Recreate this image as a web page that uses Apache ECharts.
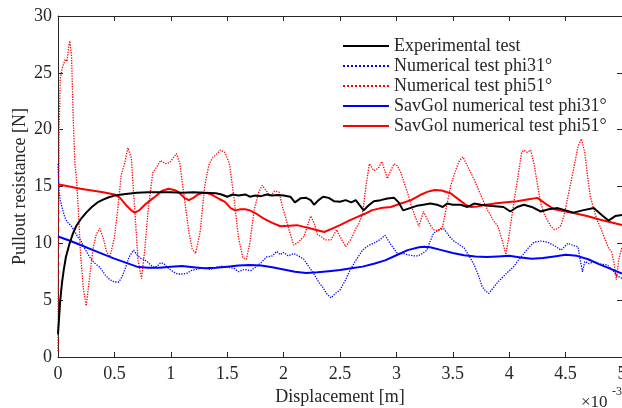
<!DOCTYPE html>
<html>
<head>
<meta charset="utf-8">
<script src="https://cdn.jsdelivr.net/npm/echarts@6/dist/echarts.min.js"></script>
<style>html,body{margin:0;padding:0;background:#fff}#c{width:622px;height:408px}</style>
</head>
<body>
<div id="c"></div>
<script>
// x values in units of 10^-3 m, y in N
const seriesNames = ['Experimental test','Numerical test phi31°','Numerical test phi51°','SavGol numerical test phi31°','SavGol numerical test phi51°'];
const xTicks = [0,0.5,1,1.5,2,2.5,3,3.5,4,4.5,5];
const yTicks = [0,5,10,15,20,25,30];

const experimental = [[0,2],[0.01,3.5],[0.02,5],[0.035,6.5],[0.05,7.6],[0.07,8.8],[0.1,9.9],[0.13,10.8],[0.16,11.5],[0.2,12.1],[0.25,12.7],[0.3,13.2],[0.35,13.6],[0.4,13.85],[0.45,14.05],[0.5,14.2],[0.6,14.35],[0.7,14.45],[0.8,14.5],[0.9,14.5],[1.0,14.5],[1.1,14.45],[1.2,14.5],[1.3,14.45],[1.4,14.4],[1.45,14.3],[1.5,14.1],[1.55,14.3],[1.6,14.2],[1.66,14.3],[1.7,14.1],[1.75,14.2],[1.8,14.15],[1.85,14.3],[1.9,14.2],[1.95,14.25],[2.0,14.2],[2.06,14.1],[2.1,13.6],[2.15,13.96],[2.2,14.0],[2.24,13.8],[2.27,13.4],[2.31,13.8],[2.35,14.1],[2.4,14.0],[2.45,13.7],[2.5,13.66],[2.55,13.8],[2.6,13.6],[2.64,13.8],[2.67,13.4],[2.71,12.9],[2.75,13.3],[2.8,13.7],[2.86,13.8],[2.92,13.95],[2.98,14.0],[3.02,13.6],[3.06,12.9],[3.12,13.1],[3.18,13.3],[3.24,13.4],[3.3,13.5],[3.36,13.4],[3.41,13.2],[3.45,13.5],[3.5,13.4],[3.57,13.4],[3.63,13.2],[3.69,13.5],[3.75,13.4],[3.82,13.3],[3.9,13.25],[3.95,13.2],[4.01,12.8],[4.07,13.2],[4.13,13.4],[4.2,13.2],[4.28,12.8],[4.35,13.0],[4.43,13.1],[4.5,12.9],[4.57,12.7],[4.65,12.9],[4.75,13.1],[4.82,12.5],[4.88,12.0],[4.94,12.4],[5.0,12.5]];

const numPhi31 = [[0,17],[0.005,15.5],[0.01,14.5],[0.02,13.8],[0.04,13],[0.06,12.3],[0.08,11.9],[0.1,11.7],[0.12,11.5],[0.15,11],[0.18,10.5],[0.2,10.3],[0.24,9.5],[0.28,8.8],[0.32,8.3],[0.37,7.9],[0.42,7.2],[0.46,6.8],[0.5,6.6],[0.54,6.6],[0.57,7.1],[0.6,7.9],[0.63,8.8],[0.67,9.4],[0.7,9.0],[0.73,8.7],[0.76,8.6],[0.79,8.4],[0.82,8.1],[0.85,7.9],[0.88,8.0],[0.91,8.3],[0.94,8.2],[0.98,7.8],[1.02,7.5],[1.06,7.3],[1.1,7.3],[1.14,7.35],[1.18,7.6],[1.22,7.7],[1.26,7.8],[1.3,7.8],[1.35,7.7],[1.41,7.9],[1.46,8.0],[1.51,7.9],[1.56,7.8],[1.6,7.5],[1.65,7.7],[1.71,7.6],[1.75,7.9],[1.8,8.3],[1.85,8.8],[1.9,8.9],[1.94,9.3],[1.97,9.0],[2.0,9.2],[2.04,8.9],[2.09,9.1],[2.13,8.9],[2.18,8.6],[2.22,8.0],[2.27,7.3],[2.31,6.6],[2.35,6.1],[2.38,5.6],[2.42,5.2],[2.46,5.6],[2.5,5.9],[2.55,6.8],[2.59,7.65],[2.64,8.5],[2.7,9.4],[2.75,9.8],[2.8,10.0],[2.85,10.3],[2.9,10.7],[2.95,9.9],[3.01,9.1],[3.06,9.1],[3.1,9.0],[3.15,8.9],[3.19,8.9],[3.23,9.1],[3.27,9.4],[3.3,10.2],[3.33,10.9],[3.38,11.2],[3.42,11.3],[3.47,10.6],[3.51,10.2],[3.54,10.0],[3.6,9.6],[3.65,8.8],[3.69,8.1],[3.73,7.1],[3.76,6.2],[3.79,5.8],[3.82,5.6],[3.86,6.1],[3.9,6.6],[3.93,6.9],[3.98,7.4],[4.04,7.95],[4.08,8.5],[4.13,9.1],[4.17,9.6],[4.22,10.1],[4.28,10.2],[4.34,10.1],[4.4,9.8],[4.46,9.4],[4.52,10.0],[4.57,9.8],[4.61,9.7],[4.63,8.5],[4.65,7.5],[4.67,8.4],[4.71,8.2],[4.75,8.4],[4.8,8.2],[4.87,8.1],[4.92,7.6],[4.95,7.2],[5.0,6.9]];

const numPhi51 = [[0,0.5],[0.005,12],[0.01,20],[0.02,24.5],[0.035,25.3],[0.05,25.8],[0.065,26.2],[0.08,26],[0.095,27.3],[0.105,27.8],[0.12,26.5],[0.135,21],[0.15,17],[0.165,15.5],[0.18,13],[0.2,9],[0.225,6],[0.25,4.5],[0.28,7],[0.31,9.5],[0.34,10.8],[0.37,11.3],[0.4,10.5],[0.43,9.3],[0.46,8.8],[0.5,10.5],[0.53,13],[0.56,16],[0.59,17],[0.62,18.4],[0.65,17.5],[0.68,13],[0.71,8.5],[0.74,6.9],[0.77,9.5],[0.8,13],[0.84,16.2],[0.88,16.8],[0.91,17.3],[0.95,17],[0.99,17.1],[1.02,17.5],[1.05,17.9],[1.08,17],[1.12,14],[1.16,11],[1.19,9.5],[1.22,9.1],[1.26,11],[1.3,15],[1.34,17],[1.37,17.5],[1.4,17.8],[1.44,18.2],[1.48,18],[1.52,17],[1.56,14],[1.6,10.5],[1.64,8.7],[1.67,8.6],[1.7,10],[1.74,13],[1.78,14.5],[1.81,15.1],[1.85,14.6],[1.88,14.1],[1.92,14.6],[1.96,14.5],[1.99,13.2],[2.02,12.2],[2.06,10.8],[2.09,9.85],[2.13,10.1],[2.18,10.6],[2.21,11.5],[2.24,12.4],[2.27,11.8],[2.3,10.8],[2.33,10.6],[2.37,10.3],[2.42,10.3],[2.47,11.2],[2.5,10.6],[2.55,9.7],[2.6,10.4],[2.64,11.3],[2.67,11.8],[2.7,12.6],[2.73,15],[2.76,17],[2.8,16.4],[2.84,16.6],[2.87,17.2],[2.9,16.3],[2.92,15.7],[2.95,16.4],[2.98,17],[3.01,16.8],[3.04,16.2],[3.07,15.3],[3.1,14.4],[3.13,13.4],[3.16,12.5],[3.2,11.5],[3.24,12.8],[3.27,12.2],[3.3,11.6],[3.33,11.2],[3.37,11.1],[3.41,11.5],[3.44,13],[3.48,15],[3.52,16.3],[3.56,17.3],[3.59,17.6],[3.63,16.8],[3.69,15.6],[3.75,14.2],[3.81,12.9],[3.86,12],[3.9,11.5],[3.94,10.2],[3.97,9.0],[4.0,10.8],[4.04,13.5],[4.08,16],[4.11,18],[4.13,18.2],[4.16,18],[4.19,18.2],[4.22,17],[4.25,15.2],[4.28,13.5],[4.31,12.6],[4.34,12],[4.37,11.5],[4.4,11.2],[4.43,11.3],[4.46,11.6],[4.49,12.6],[4.52,14.1],[4.55,15.5],[4.58,17],[4.61,18.5],[4.64,19.2],[4.67,18],[4.7,15.5],[4.72,14.1],[4.75,13],[4.78,12.0],[4.81,11.4],[4.84,10.6],[4.88,9.6],[4.91,9.2],[4.93,8.2],[4.95,6.8],[4.97,8.5],[5.0,9.7]];

const savPhi31 = [[0,10.6],[0.1,10.25],[0.2,9.85],[0.3,9.45],[0.4,9.05],[0.5,8.65],[0.6,8.3],[0.7,7.95],[0.8,7.85],[0.9,7.85],[1.0,7.95],[1.1,8.0],[1.2,7.9],[1.3,7.8],[1.4,7.85],[1.5,7.95],[1.6,8.05],[1.7,8.1],[1.8,8.05],[1.9,7.9],[2.0,7.7],[2.1,7.5],[2.2,7.4],[2.3,7.45],[2.4,7.55],[2.5,7.65],[2.6,7.8],[2.7,7.95],[2.8,8.2],[2.9,8.5],[3.0,8.95],[3.1,9.4],[3.2,9.65],[3.25,9.7],[3.3,9.65],[3.4,9.4],[3.5,9.15],[3.6,8.95],[3.7,8.85],[3.8,8.8],[3.9,8.85],[4.0,8.9],[4.1,8.75],[4.2,8.65],[4.3,8.7],[4.4,8.85],[4.5,9.0],[4.6,8.9],[4.7,8.6],[4.8,8.15],[4.9,7.75],[5.0,7.35]];

const savPhi51 = [[0,15.2],[0.1,15.0],[0.2,14.8],[0.3,14.65],[0.4,14.5],[0.5,14.3],[0.55,14.0],[0.6,13.4],[0.65,12.9],[0.68,12.7],[0.72,12.9],[0.77,13.4],[0.82,13.8],[0.86,14.1],[0.92,14.6],[0.98,14.8],[1.03,14.7],[1.07,14.5],[1.12,14.0],[1.16,13.8],[1.2,14.0],[1.24,14.3],[1.28,14.45],[1.33,14.4],[1.37,14.25],[1.43,13.9],[1.48,13.65],[1.53,13.1],[1.57,12.9],[1.62,13.0],[1.66,13.0],[1.7,12.9],[1.76,12.6],[1.82,12.2],[1.9,11.8],[1.97,11.5],[2.05,11.55],[2.12,11.6],[2.18,11.45],[2.24,11.3],[2.3,11.15],[2.36,11.0],[2.43,11.3],[2.5,11.6],[2.58,12.0],[2.65,12.3],[2.72,12.6],[2.78,12.9],[2.86,13.1],[2.95,13.2],[3.04,13.5],[3.13,13.8],[3.21,14.25],[3.28,14.55],[3.34,14.7],[3.4,14.65],[3.48,14.4],[3.56,13.8],[3.62,13.35],[3.66,13.2],[3.72,13.25],[3.8,13.4],[3.87,13.5],[3.95,13.6],[4.07,13.7],[4.16,13.85],[4.25,14.0],[4.32,13.5],[4.4,13.0],[4.5,12.8],[4.6,12.6],[4.69,12.4],[4.8,12.1],[4.9,11.85],[5.0,11.6]];

const FONT = 'Liberation Serif';
const TXT = '#262626';
const FS = 18;
const chart = echarts.init(document.getElementById('c'), null, {renderer:'canvas'});

function mkX(pos, show) {
  return {
    type:'value', min:0, max:5, interval:0.5, position:pos,
    axisLine:{show:true, onZero:false, lineStyle:{color:TXT, width:1}},
    axisTick:{show:true, inside:true, length:5, lineStyle:{color:TXT}},
    axisLabel:{show:show, color:TXT, fontFamily:FONT, fontSize:FS, margin:8},
    splitLine:{show:false},
    name: show ? 'Displacement [m]' : '', nameLocation:'middle', nameGap:31, nameMoveOverlap:false,
    nameTextStyle:{color:TXT, fontFamily:FONT, fontSize:FS}
  };
}
function mkY(pos, show) {
  return {
    type:'value', min:0, max:30, interval:5, position:pos,
    axisLine:{show:true, onZero:false, lineStyle:{color:TXT, width:1}},
    axisTick:{show:true, inside:true, length:5, lineStyle:{color:TXT}},
    axisLabel:{show:show, color:TXT, fontFamily:FONT, fontSize:FS, margin:6},
    splitLine:{show:false},
    name: show ? 'Pullout resistance [N]' : '', nameLocation:'middle', nameGap:29, nameMoveOverlap:false,
    nameTextStyle:{color:TXT, fontFamily:FONT, fontSize:FS}
  };
}

const lineDefs = [
  {data:experimental, color:'#000000', type:'solid', width:2},
  {data:numPhi31, color:'#0000ff', type:'dotted', width:1.3},
  {data:numPhi51, color:'#ff0000', type:'dotted', width:1.3},
  {data:savPhi31, color:'#0000ff', type:'solid', width:2},
  {data:savPhi51, color:'#ff0000', type:'solid', width:2}
];

chart.setOption({
  animation:false,
  grid:{left:58, right:0, top:16, bottom:51, containLabel:false, outerBoundsMode:'none'},
  xAxis:[mkX('bottom', true), mkX('top', false)],
  yAxis:[mkY('left', true), mkY('right', false)],
  legend:{
    show:true,
    data:seriesNames, orient:'vertical', left:342, top:37, padding:0,
    itemWidth:46, itemHeight:14, itemGap:2,
    itemStyle:{opacity:0},
    textStyle:{color:TXT, fontFamily:FONT, fontSize:FS}
  },
  series: lineDefs.map((d,i)=>({
    name:seriesNames[i], type:'line', data:d.data, xAxisIndex:0, yAxisIndex:0,
    symbol:'none', showSymbol:false, smooth:false, clip:true,
    color:d.color,
    itemStyle:{color:d.color},
    lineStyle:{color:d.color, type:d.type, width:d.width},
    z: i===0 ? 5 : (i>=3 ? 4 : 3)
  })),
  graphic:[
    {type:'text', left:581, top:394, style:{text:'×10', fill:TXT, font:'17px "Liberation Serif"'}},
    {type:'text', left:612, top:386, style:{text:'-3', fill:TXT, font:'12px "Liberation Serif"'}}
  ]
});
</script>
</body>
</html>
